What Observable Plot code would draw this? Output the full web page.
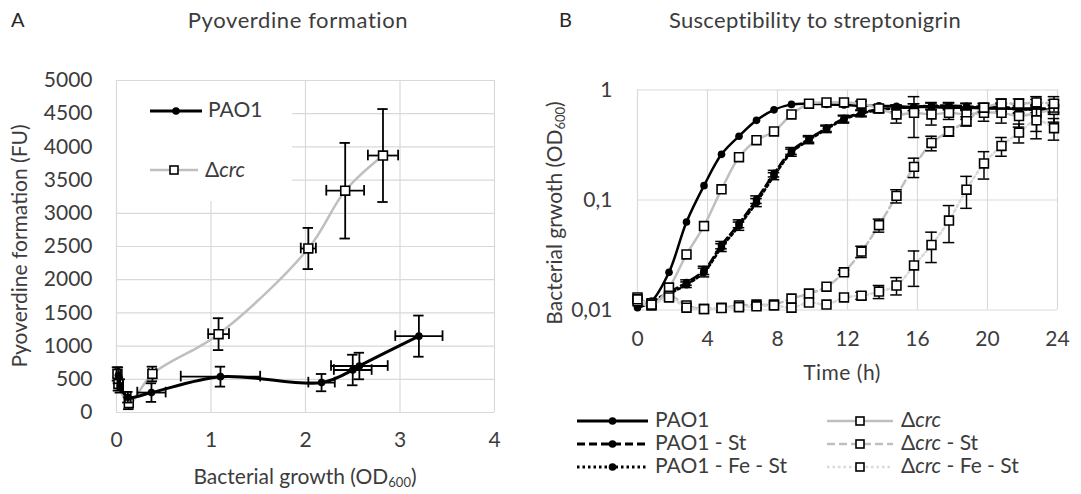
<!DOCTYPE html>
<html>
<head>
<meta charset="utf-8">
<script src="https://cdn.jsdelivr.net/npm/d3@7"></script>
<script src="https://cdn.jsdelivr.net/npm/@observablehq/plot@0.6"></script>
<style>
  html, body { margin: 0; padding: 0; background: #fff; }
  #wrap { position: relative; width: 1081px; height: 494px; overflow: hidden; font-family: Lato, "Open Sans", sans-serif; }
  #a, #b { position: absolute; top: 0; }
  #a { left: 0; }
  #b { left: 540px; }
  #overlay { position: absolute; left: 0; top: 0; pointer-events: none; }
</style>
</head>
<body>
<div id="wrap">
  <div id="a"></div>
  <div id="b"></div>
  <svg id="overlay" width="1081" height="494"></svg>
</div>
<script>
// ---------------- Panel A data ----------------
const pao1X    = [0.02, 0.04, 0.12, 0.37, 1.10, 2.17, 2.50, 2.57, 3.20];
const pao1Y    = [560, 400, 230, 300, 540, 450, 640, 700, 1150];
const pao1Xerr = [0.02, 0.03, 0.03, 0.15, 0.42, 0.14, 0.20, 0.30, 0.25];
const pao1Yerr = [120, 100, 80, 140, 150, 130, 230, 200, 310];

const crcX    = [0.01, 0.02, 0.13, 0.38, 1.08, 2.03, 2.42, 2.82];
const crcY    = [580, 430, 140, 580, 1180, 2470, 3340, 3870];
const crcXerr = [0.02, 0.02, 0.04, 0.04, 0.11, 0.08, 0.20, 0.16];
const crcYerr = [100, 100, 90, 110, 240, 310, 720, 700];

const ticksAx = [0, 1, 2, 3, 4];
const ticksAy = [0, 500, 1000, 1500, 2000, 2500, 3000, 3500, 4000, 4500, 5000];

// ---------------- Panel B data ----------------
const timeH = [0, 0.8, 1.8, 2.8, 3.8, 4.8, 5.8, 6.8, 7.8, 8.8, 9.8, 10.8, 11.8, 12.8, 13.8, 14.8, 15.8, 16.8, 17.8, 18.8, 19.8, 20.8, 21.8, 22.8, 23.8];
const pao1B      = [0.0105, 0.012, 0.022, 0.063, 0.135, 0.26, 0.38, 0.53, 0.66, 0.74, 0.75, 0.74, 0.73, 0.72, 0.72, 0.71, 0.70, 0.70, 0.69, 0.69, 0.68, 0.68, 0.67, 0.67, 0.66];
const pao1StB    = [0.011, 0.012, 0.0145, 0.0178, 0.023, 0.039, 0.061, 0.101, 0.174, 0.28, 0.36, 0.45, 0.55, 0.62, 0.67, 0.68, 0.70, 0.72, 0.72, 0.71, 0.70, 0.70, 0.68, 0.68, 0.68];
const pao1FeStB  = [0.011, 0.0115, 0.014, 0.017, 0.022, 0.037, 0.058, 0.095, 0.165, 0.27, 0.35, 0.44, 0.54, 0.61, 0.66, 0.68, 0.70, 0.71, 0.71, 0.70, 0.69, 0.68, 0.67, 0.66, 0.66];
const crcB       = [0.012, 0.011, 0.016, 0.032, 0.058, 0.125, 0.245, 0.35, 0.42, 0.60, 0.75, 0.77, 0.77, 0.75, 0.68, 0.60, 0.62, 0.60, 0.62, 0.60, 0.62, 0.62, 0.58, 0.62, 0.66];
const crcStB     = [0.013, 0.0115, 0.0135, 0.011, 0.0102, 0.0105, 0.011, 0.0112, 0.0112, 0.0127, 0.0141, 0.0163, 0.022, 0.034, 0.059, 0.109, 0.20, 0.33, 0.42, 0.52, 0.69, 0.75, 0.75, 0.77, 0.75];
const crcFeStB   = [0.0125, 0.0112, 0.013, 0.0105, 0.0102, 0.0104, 0.0106, 0.0108, 0.011, 0.0105, 0.0117, 0.0112, 0.013, 0.0135, 0.0147, 0.0167, 0.0254, 0.039, 0.065, 0.124, 0.215, 0.31, 0.41, 0.53, 0.45];

const pao1StErr   = [0, 0, 0, 0.001, 0.002, 0.003, 0.005, 0.008, 0.012, 0.02, 0.025, 0.03, 0.04, 0.04, 0.04, 0.05, 0.05, 0.05, 0.05, 0.05, 0.06, 0.06, 0.06, 0.06, 0.06];
const pao1FeStErr = [0, 0, 0, 0.001, 0.002, 0.003, 0.005, 0.008, 0.012, 0.02, 0.025, 0.03, 0.04, 0.04, 0.04, 0.05, 0.05, 0.05, 0.05, 0.05, 0.06, 0.06, 0.06, 0.06, 0.06];
const crcErr      = [0, 0, 0, 0, 0, 0, 0, 0, 0, 0, 0, 0, 0, 0.04, 0.05, 0.10, 0.25, 0.12, 0.08, 0.06, 0.10, 0.12, 0.12, 0.20, 0.15];
const crcStErr    = [0, 0, 0, 0, 0, 0, 0, 0, 0, 0, 0, 0, 0.001, 0.004, 0.008, 0.015, 0.04, 0.05, 0.04, 0.05, 0.06, 0.08, 0.08, 0.10, 0.12];
const crcFeStErr  = [0, 0, 0, 0, 0, 0, 0, 0, 0, 0, 0, 0, 0, 0.001, 0.002, 0.003, 0.009, 0.012, 0.024, 0.04, 0.06, 0.06, 0.08, 0.17, 0.10];

const ticksBx = [0, 4, 8, 12, 16, 20, 24];
const ticksBy = [0.01, 0.1, 1];
const ticksByLabels = ["0,01", "0,1", "1"];

// ---------------- common ----------------
const FONT = 'Lato, "Open Sans", sans-serif';
const TEXT = "#3c3c3c";
const GRID = "#d9d9d9";
const GRAY = "#bfbfbf";
const LIGHT = "#d9d9d9";

// ---------------- Panel A ----------------
const rowsA = (xs, ys, xe, ye) => xs.map((x, i) => ({x, y: ys[i], xe: xe[i], ye: ye[i]}));
const pao1A = rowsA(pao1X, pao1Y, pao1Xerr, pao1Yerr);
const crcA = rowsA(crcX, crcY, crcXerr, crcYerr);
const capXA = 0.055, capYA = 80;
const eb = {stroke: "#000", strokeWidth: 1.8};
function errA(data) {
  return [
    Plot.ruleX(data, {x: "x", y1: d => d.y - d.ye, y2: d => d.y + d.ye, ...eb}),
    Plot.ruleY(data, {y: d => d.y - d.ye, x1: d => d.x - capXA, x2: d => d.x + capXA, ...eb}),
    Plot.ruleY(data, {y: d => d.y + d.ye, x1: d => d.x - capXA, x2: d => d.x + capXA, ...eb}),
    Plot.ruleY(data, {y: "y", x1: d => d.x - d.xe, x2: d => d.x + d.xe, ...eb}),
    Plot.ruleX(data, {x: d => d.x - d.xe, y1: d => d.y - capYA, y2: d => d.y + capYA, ...eb}),
    Plot.ruleX(data, {x: d => d.x + d.xe, y1: d => d.y - capYA, y2: d => d.y + capYA, ...eb})
  ];
}

const plotA = Plot.plot({
  width: 540, height: 494,
  marginLeft: 116, marginRight: 46, marginTop: 80, marginBottom: 82,
  style: {fontFamily: FONT, fontSize: "21px", color: TEXT, background: "transparent", overflow: "visible"},
  x: {domain: [0, 4], ticks: ticksAx, tickFormat: d3.format("d"), tickSize: 0, tickPadding: 20, label: null},
  y: {domain: [0, 5000], ticks: ticksAy, tickFormat: d3.format("d"), tickSize: 0, tickPadding: 24, label: null},
  marks: [
    Plot.ruleY(ticksAy, {y: d => d, stroke: GRID, strokeWidth: 1.2}),
    Plot.ruleX(ticksAx, {x: d => d, stroke: GRID, strokeWidth: 1.2}),
    Plot.line(crcA, {x: "x", y: "y", curve: "catmull-rom", stroke: GRAY, strokeWidth: 2.5}),
    ...errA(crcA),
    Plot.dot(crcA, {x: "x", y: "y", symbol: "square", r: 5, fill: "#fff", stroke: "#000", strokeWidth: 1.6}),
    Plot.line(pao1A, {x: "x", y: "y", curve: "catmull-rom", stroke: "#000", strokeWidth: 3}),
    ...errA(pao1A),
    Plot.dot(pao1A, {x: "x", y: "y", r: 3.8, fill: "#000"})
  ]
});
document.getElementById("a").appendChild(plotA);

// ---------------- Panel B ----------------
const seriesB = [
  {name: "PAO1", v: pao1B, e: null, stroke: "#000", dash: null, sym: "circle"},
  {name: "PAO1 - St", v: pao1StB, e: pao1StErr, stroke: "#000", dash: "8,4", sym: "circle"},
  {name: "PAO1 - Fe - St", v: pao1FeStB, e: pao1FeStErr, stroke: "#000", dash: "2.5,3", sym: "circle"},
  {name: "crc", v: crcB, e: crcErr, stroke: GRAY, dash: null, sym: "square"},
  {name: "crc - St", v: crcStB, e: crcStErr, stroke: GRAY, dash: "8,4", sym: "square"},
  {name: "crc - Fe - St", v: crcFeStB, e: crcFeStErr, stroke: LIGHT, dash: "2.5,3", sym: "square"}
];
const capXB = 0.33;
const marksB = [
  Plot.ruleY(ticksBy, {y: d => d, stroke: GRID, strokeWidth: 1.2}),
  Plot.ruleX(ticksBx, {x: d => d, stroke: GRID, strokeWidth: 1.2})
];
for (const s of seriesB) {
  const rows = timeH.map((t, i) => ({t, v: s.v[i], e: s.e ? s.e[i] : 0}));
  marksB.push(Plot.line(rows, {x: "t", y: "v", curve: "catmull-rom", stroke: s.stroke, strokeWidth: 2.5, strokeDasharray: s.dash}));
  const er = rows.filter(d => d.e > 0);
  marksB.push(
    Plot.ruleX(er, {x: "t", y1: d => d.v - d.e, y2: d => d.v + d.e, stroke: "#000", strokeWidth: 1.5}),
    Plot.ruleY(er, {y: d => d.v - d.e, x1: d => d.t - capXB, x2: d => d.t + capXB, stroke: "#000", strokeWidth: 1.5}),
    Plot.ruleY(er, {y: d => d.v + d.e, x1: d => d.t - capXB, x2: d => d.t + capXB, stroke: "#000", strokeWidth: 1.5})
  );
  if (s.sym === "circle") {
    marksB.push(Plot.dot(rows, {x: "t", y: "v", r: 3.8, fill: "#000"}));
  } else {
    marksB.push(Plot.dot(rows, {x: "t", y: "v", symbol: "square", r: 5, fill: "#fff", stroke: "#000", strokeWidth: 1.6}));
  }
}
const plotB = Plot.plot({
  width: 541, height: 494,
  marginLeft: 97, marginRight: 24, marginTop: 89.5, marginBottom: 184.5,
  style: {fontFamily: FONT, fontSize: "21px", color: TEXT, background: "transparent", overflow: "visible"},
  x: {domain: [0, 24], ticks: ticksBx, tickFormat: d3.format("d"), tickSize: 0, tickPadding: 21, label: null},
  y: {type: "log", domain: [0.01, 1], ticks: ticksBy, tickFormat: d => ticksByLabels[ticksBy.indexOf(d)], tickSize: 0, tickPadding: 25, label: null},
  marks: marksB
});
document.getElementById("b").appendChild(plotB);

// ---------------- Overlay: titles, labels, legends ----------------
const ov = d3.select("#overlay").style("font-family", FONT);
function txt(x, y, anchor, size, fill, parts, rot, ls) {
  const t = ov.append("text").attr("x", x).attr("y", y).attr("text-anchor", anchor)
    .attr("font-size", size).attr("fill", fill).attr("dominant-baseline", "middle");
  if (ls) t.attr("letter-spacing", ls);
  if (rot) t.attr("transform", `rotate(${rot},${x},${y})`);
  for (const p of parts) {
    const sp = t.append("tspan").text(p.t);
    if (p.i) sp.attr("font-style", "italic");
    if (p.sub) sp.attr("font-size", Math.round(size * 0.62)).attr("dy", 5);
    if (p.up) sp.attr("dy", -5);
  }
  return t;
}
txt(11, 22, "start", 20, "#262626", [{t: "A"}]);
txt(298, 22, "middle", 22, TEXT, [{t: "Pyoverdine formation"}], 0, 0.6);
txt(559, 22, "start", 20, "#262626", [{t: "B"}]);
txt(815, 22, "middle", 22, TEXT, [{t: "Susceptibility to streptonigrin"}], 0, 0.3);

txt(22, 246, "middle", 21, TEXT, [{t: "Pyoverdine formation (FU)"}], -90);
txt(305, 479, "middle", 21, TEXT, [{t: "Bacterial growth (OD"}, {t: "600", sub: true}, {t: ")", up: true}]);
txt(557, 213, "middle", 21, TEXT, [{t: "Bacterial grwoth (OD"}, {t: "600", sub: true}, {t: ")", up: true}], -90);
txt(842, 375, "middle", 21, TEXT, [{t: "Time (h)"}], 0, 0.5);

// Panel A legend (white box over the grid)
ov.append("rect").attr("x", 117).attr("y", 81).attr("width", 175).attr("height", 120).attr("fill", "#fff");
function swatch(x1, x2, y, stroke, width, dash, sym) {
  const l = ov.append("line").attr("x1", x1).attr("x2", x2).attr("y1", y).attr("y2", y)
    .attr("stroke", stroke).attr("stroke-width", width);
  if (dash) l.attr("stroke-dasharray", dash);
  const mx = (x1 + x2) / 2;
  if (sym === "circle") ov.append("circle").attr("cx", mx).attr("cy", y).attr("r", 3.8).attr("fill", "#000");
  else ov.append("rect").attr("x", mx - 4).attr("y", y - 4).attr("width", 8).attr("height", 8)
    .attr("fill", "#fff").attr("stroke", "#000").attr("stroke-width", 1.6);
}
swatch(150, 202, 111, "#000", 3, null, "circle");
txt(208, 112, "start", 21, TEXT, [{t: "PAO1"}]);
swatch(150, 198, 170, GRAY, 2.5, null, "square");
txt(205, 172, "start", 21, TEXT, [{t: "Δ"}, {t: "crc", i: true}]);

// Panel B legend
const legRows = [421, 444, 467];
const legItems = [
  [seriesB[0], seriesB[3]],
  [seriesB[1], seriesB[4]],
  [seriesB[2], seriesB[5]]
];
legItems.forEach((pair, r) => {
  const y = legRows[r];
  const a = pair[0], b = pair[1];
  swatch(577, 648, y, a.stroke, a.stroke === "#000" ? 2.8 : 2.5, a.dash, a.sym);
  txt(655, y + 1, "start", 21, TEXT, [{t: a.name}]);
  swatch(827, 893, y, b.stroke, 2.5, b.dash, b.sym);
  txt(901, y + 1, "start", 21, TEXT, [{t: "Δ"}, {t: "crc", i: true}, {t: b.name.slice(3)}]);
});
</script>
</body>
</html>
